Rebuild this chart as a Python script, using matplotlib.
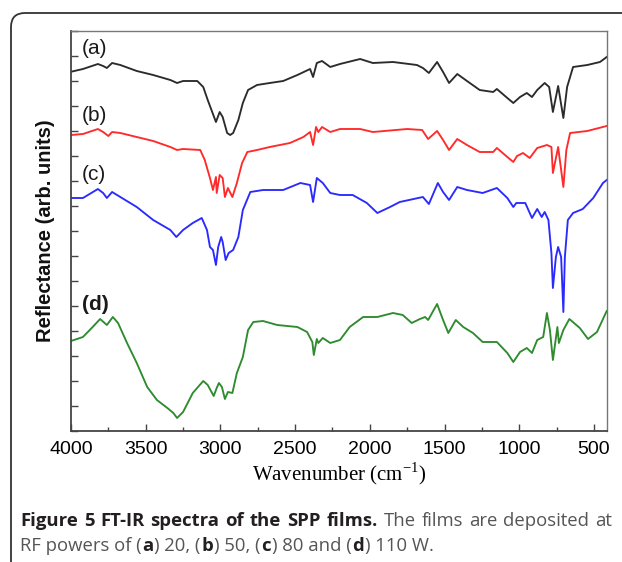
import numpy as np
import matplotlib
matplotlib.use('Agg')
import matplotlib.pyplot as plt
from matplotlib.patches import FancyBboxPatch
from matplotlib.transforms import IdentityTransform
from matplotlib.ticker import MultipleLocator, NullFormatter

# ---- spectra (wavenumber, reflectance in arb. units) ----
wn_a = [4000,3920,3820,3785,3760,3725,3670,3560,3450,3335,3290,3250,3155,3115,3085,3055,3030,3005,2985,2955,
        2935,2915,2880,2850,2815,2755,2670,2580,2485,2400,2380,2355,2320,2265,2200,2065,1980,1845,1685,1645,
        1605,1550,1510,1470,1415,1350,1265,1175,1150,1080,1040,995,950,915,880,830,800,775,740,705,
        680,640,545,460,415]
ref_a = [14.37,14.48,14.68,14.60,14.52,14.72,14.64,14.40,14.24,14.04,13.92,14.00,14.00,13.76,13.24,12.76,12.36,12.76,12.56,11.92,
         11.84,11.92,12.44,13.12,13.64,13.84,13.92,14.00,14.24,14.48,14.16,14.72,14.80,14.56,14.68,14.88,14.72,14.76,14.64,14.52,
         14.32,14.76,14.36,13.92,14.28,14.00,13.64,13.56,13.68,13.32,13.12,13.36,13.52,13.36,13.64,13.92,13.76,12.76,13.80,12.52,
         13.76,14.56,14.64,14.76,14.96]

wn_b = [4000,3920,3820,3785,3750,3725,3670,3560,3450,3335,3290,3250,3135,3105,3070,3050,3030,3025,3005,2985,
        2970,2950,2920,2890,2855,2820,2755,2670,2535,2445,2400,2380,2360,2345,2320,2265,2200,2065,1980,1750,
        1650,1610,1550,1510,1470,1415,1350,1265,1175,1150,1080,1040,1015,975,930,880,815,785,775,740,
        705,685,660,545,415]
ref_b = [11.84,11.88,12.08,11.96,11.80,11.96,11.92,11.76,11.60,11.36,11.24,11.28,11.24,10.84,10.12,9.64,10.16,9.52,10.24,10.12,
         9.36,9.72,9.36,9.92,10.72,11.16,11.24,11.36,11.52,11.76,11.96,11.44,12.16,11.96,12.16,11.96,12.08,12.08,11.96,12.08,
         12.04,11.68,12.00,11.64,11.24,11.68,11.44,11.16,11.16,11.32,10.96,10.76,11.00,11.12,10.92,11.32,11.44,11.36,10.32,11.36,
         9.76,11.24,11.92,12.00,12.20]

wn_c = [4000,3920,3820,3785,3760,3725,3670,3560,3450,3335,3295,3250,3185,3125,3090,3070,3050,3030,3015,2995,
        2985,2965,2945,2915,2880,2850,2800,2715,2580,2465,2400,2380,2355,2315,2265,2200,2115,2020,1950,1865,
        1800,1645,1605,1545,1510,1470,1415,1350,1245,1150,1080,1040,1020,960,915,880,850,830,805,785,
        775,755,740,720,705,695,675,640,575,505,440,415]
ref_c = [9.32,9.32,9.68,9.52,9.32,9.56,9.36,8.96,8.44,8.04,7.76,8.04,8.32,8.52,8.04,7.36,7.24,6.64,7.36,7.76,
         7.56,6.84,7.12,7.24,7.76,8.84,9.56,9.64,9.64,9.92,9.84,9.16,10.12,9.92,9.52,9.44,9.44,9.12,8.72,8.96,
         9.16,9.36,9.08,9.92,9.56,9.24,9.76,9.64,9.52,9.72,9.32,8.96,9.12,9.12,8.52,8.88,8.56,8.76,8.44,7.12,
         5.72,6.96,7.36,6.96,4.76,6.96,8.44,8.72,8.88,9.32,9.92,10.04]

wn_d = [4000,3920,3855,3805,3760,3720,3685,3625,3560,3490,3425,3355,3315,3290,3250,3185,3115,3085,3045,3025,
        3010,2990,2970,2950,2920,2890,2850,2815,2780,2715,2620,2485,2420,2385,2375,2355,2345,2315,2265,2200,
        2135,2045,1950,1845,1780,1720,1665,1630,1610,1550,1510,1475,1425,1375,1310,1245,1150,1080,1040,995,
        950,915,880,840,815,795,775,745,735,705,665,595,540,480,415]
ref_d = [3.60,3.76,4.16,4.48,4.24,4.56,4.32,3.52,2.72,1.76,1.24,0.92,0.72,0.52,0.76,1.52,2.00,1.84,1.40,1.72,
         1.92,1.76,1.28,1.56,1.52,2.32,2.96,4.04,4.36,4.40,4.24,4.16,3.96,3.56,3.04,3.68,3.52,3.72,3.52,3.64,
         4.16,4.56,4.56,4.72,4.64,4.32,4.48,4.56,4.44,5.08,4.44,3.92,4.44,4.16,3.92,3.56,3.56,3.12,2.76,3.16,
         3.32,3.12,3.64,3.76,4.72,4.04,2.84,4.16,3.52,4.04,4.48,4.12,3.68,3.96,4.80]

series = [(wn_a, ref_a, '#2b2b2b', '(a)', 15.28, 'normal'),
          (wn_b, ref_b, '#ff2a2a', '(b)', 12.62, 'normal'),
          (wn_c, ref_c, '#2a2aff', '(c)', 10.28, 'normal'),
          (wn_d, ref_d, '#2e8b2e', '(d)', 5.08, 'bold')]

W, H = 622, 562
fig = plt.figure(figsize=(W/100, H/100), dpi=100)
fig.patch.set_facecolor('white')

# rounded outer frame (cut by the picture's right and bottom edge)
frame = FancyBboxPatch((11, -30), 700, H-13+30, boxstyle='round,pad=0,rounding_size=14',
                       transform=IdentityTransform(), fill=False, ec='#333333', lw=1.3)
fig.patches.append(frame)

ax = fig.add_axes([71/W, (H-431)/H, 536/W, 400/H])
for wn, ref, col, lbl, ly, fw in series:
    ax.plot(wn, ref, color=col, lw=1.35)
    ax.text(3928, ly, lbl, fontsize=15, fontweight=fw, va='center', ha='left',
            family='Liberation Sans', color='#1a1a1a')

ax.set_xlim(4000, 413)
ax.set_ylim(0, 16)
ax.xaxis.set_major_locator(MultipleLocator(500))
ax.xaxis.set_minor_locator(MultipleLocator(250))
ax.yaxis.set_major_locator(MultipleLocator(1))
ax.yaxis.set_major_formatter(NullFormatter())
ax.tick_params(axis='both', which='both', direction='in', top=False, right=False, color='#444444')
ax.tick_params(axis='x', which='major', length=5, width=1, pad=7, labelsize=14)
ax.tick_params(axis='x', which='minor', length=3, width=1)
ax.tick_params(axis='y', which='major', length=5, width=1)
for lab in ax.get_xticklabels():
    lab.set_family('Liberation Sans')
for s in ['left', 'bottom']:
    ax.spines[s].set_color('#444444'); ax.spines[s].set_linewidth(1.3)
for s in ['top', 'right']:
    ax.spines[s].set_color('#777777'); ax.spines[s].set_linewidth(1.0)

ax.set_xlabel(r'Wavenumber (cm$^{\mathregular{-1}}$)', family='Liberation Serif', fontsize=15, labelpad=2)
ax.set_ylabel('Reflectance (arb. units)', family='Liberation Sans', fontsize=14.5,
              fontweight='bold', labelpad=8, color='#111111')

# caption with mixed weights; first line justified to the frame width
renderer = fig.canvas.get_renderer()
cap_font = 'Open Sans'
cap_size = 13.3
dark, grey = '#231f20', '#555555'

def words_line(y, words, x0=20, x1=None, space=4.0):
    arts = []
    for s, w, c in words:
        t = fig.text(0, y, s, fontsize=cap_size, fontweight=w, color=c, family=cap_font,
                     transform=IdentityTransform(), va='baseline', ha='left')
        arts.append(t)
    widths = [t.get_window_extent(renderer).width for t in arts]
    if x1 is not None and len(arts) > 1:
        space = (x1 - x0 - sum(widths)) / (len(arts) - 1)
    x = x0
    for t, wd in zip(arts, widths):
        t.set_x(x)
        x += wd + space

def rich(x, y, parts):
    for s, w, c in parts:
        t = fig.text(x, y, s, fontsize=cap_size, fontweight=w, color=c, family=cap_font,
                     transform=IdentityTransform(), va='baseline', ha='left')
        x = t.get_window_extent(renderer).x1 + 0.8

line1 = [(w, 'bold', dark) for w in 'Figure 5 FT-IR spectra of the SPP films.'.split()] + \
        [(w, 'normal', grey) for w in 'The films are deposited at'.split()]
words_line(H-526, line1, x0=20, x1=612)
rich(20, H-551, [('RF powers of (', 'normal', grey), ('a', 'bold', dark),
                 (') 20, (', 'normal', grey), ('b', 'bold', dark),
                 (') 50, (', 'normal', grey), ('c', 'bold', dark),
                 (') 80 and (', 'normal', grey), ('d', 'bold', dark),
                 (') 110 W.', 'normal', grey)])

fig.savefig('out.png', dpi=100)
